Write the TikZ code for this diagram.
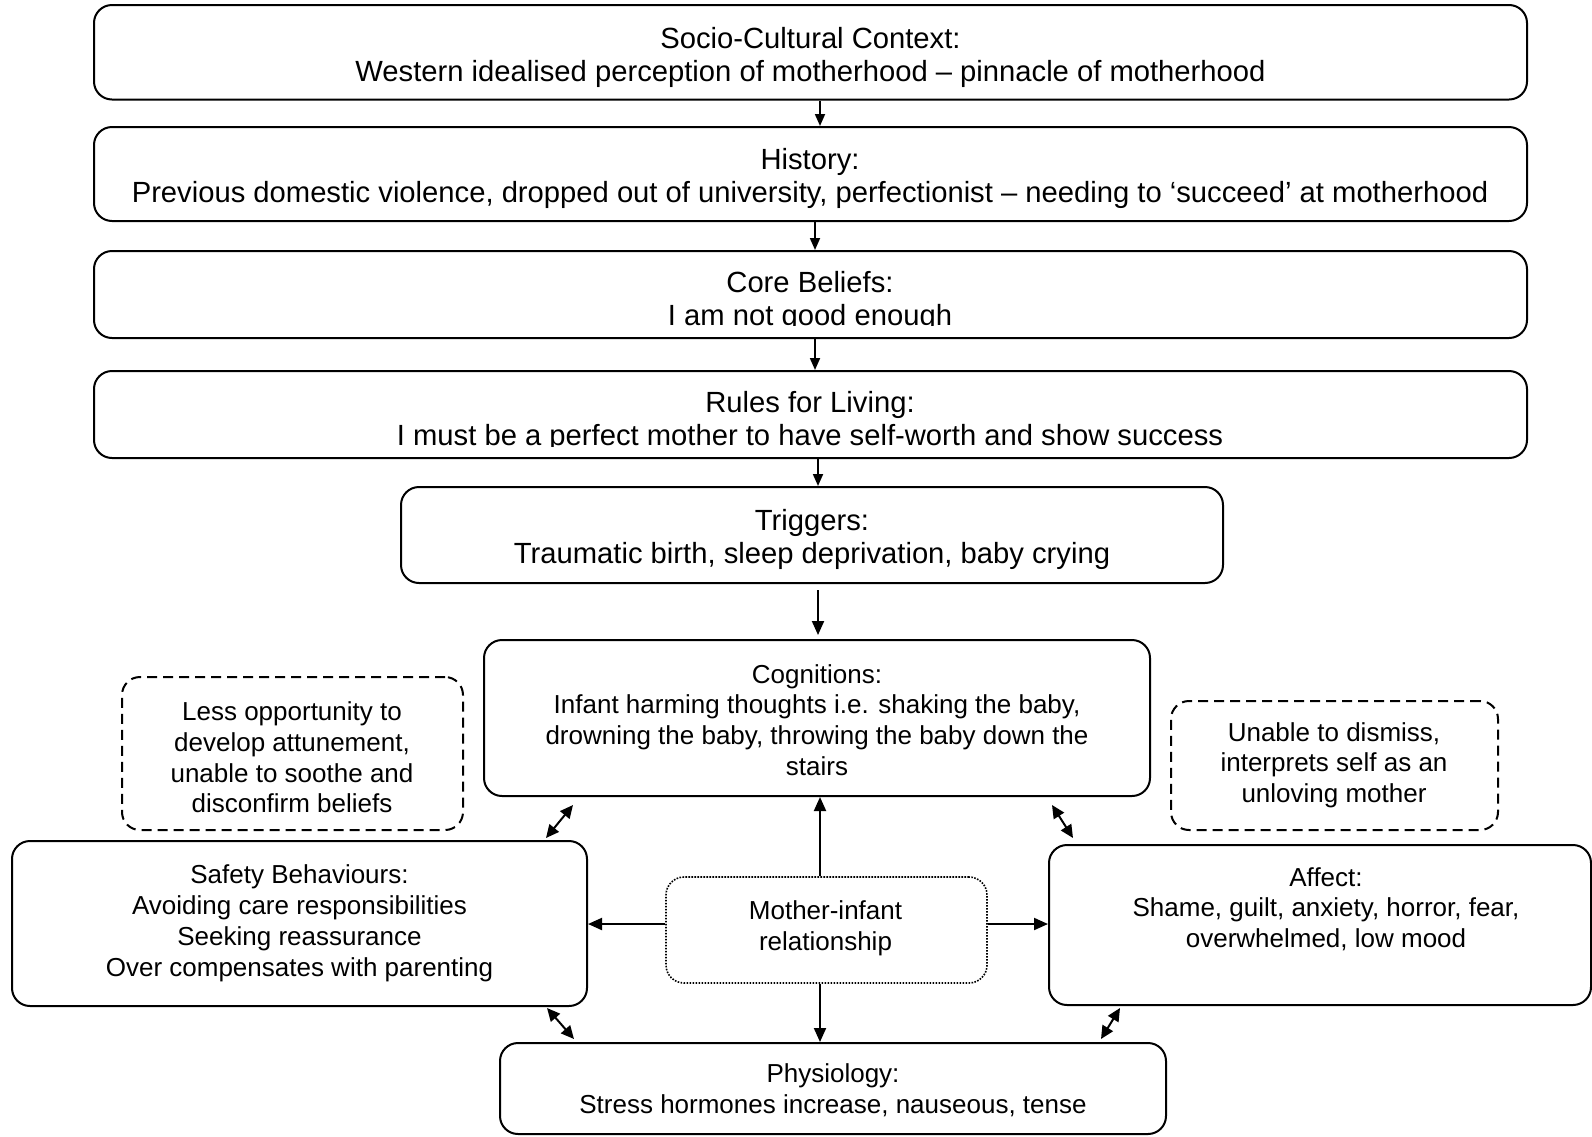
\documentclass[tikz,border=0pt]{standalone}
\usepackage{fontspec}
\setmainfont{Liberation Sans}
\usetikzlibrary{arrows.meta,calc}
\begin{document}
\begin{tikzpicture}[x=1pt,y=-1pt,
  box/.style={draw,line width=2pt,rounded corners=18pt,inner sep=0pt},
  dashbox/.style={box,dash pattern=on 10pt off 6pt},
  dotbox/.style={draw,line width=1.6pt,rounded corners=18pt,inner sep=0pt,dash pattern=on 1.6pt off 1.4pt},
  txtbig/.style={align=center,inner sep=0pt,font=\fontsize{29.2}{33}\selectfont},
  txt/.style={align=center,inner sep=0pt,font=\fontsize{26}{30.7}\selectfont},
  arr/.style={line width=2pt,-{Triangle[length=14pt,width=12pt]}},
  sarr/.style={line width=1.8pt,-{Triangle[length=12pt,width=10pt]}},
  dbl/.style={line width=2pt,{Triangle[length=13pt,width=12pt]}-{Triangle[length=13pt,width=12pt]}}]
\useasboundingbox (0,0) rectangle (1592,1136);

% boxes
\node[box,minimum width=1433pt,minimum height=94.5pt] (socbox) at (810.5,52.25) {};
\node[box,minimum width=1433pt,minimum height=94pt] (histbox) at (810.5,174) {};
\node[box,minimum width=1433pt,minimum height=87pt] (corebox) at (810.5,294.5) {};
\node[box,minimum width=1433pt,minimum height=87pt] (rulesbox) at (810.5,414.5) {};
\node[box,minimum width=822pt,minimum height=96pt] (trigbox) at (812,535) {};
\node[box,minimum width=666pt,minimum height=156pt] (cogbox) at (817,718) {};
\node[dashbox,minimum width=341pt,minimum height=153pt] (lessbox) at (292.5,753.5) {};
\node[dashbox,minimum width=327pt,minimum height=129pt] (unablebox) at (1334.5,765.5) {};
\node[box,minimum width=575pt,minimum height=165pt] (safetybox) at (299.5,923.5) {};
\node[dotbox,minimum width=321pt,minimum height=106pt] (motherbox) at (826.5,930) {};
\node[box,minimum width=542pt,minimum height=160pt] (affectbox) at (1320,925) {};
\node[box,minimum width=666pt,minimum height=91pt] (physbox) at (833,1088.5) {};

% texts
\node[txtbig] (socT) at (810.5,57.8) {Socio-Cultural Context:\\Western idealised perception of motherhood – pinnacle of motherhood};
\node[txtbig] (histT) at (810,178.5) {History:\\Previous domestic violence, dropped out of university, perfectionist – needing to ‘succeed’ at motherhood};
\begin{scope}
\clip (94,251) rectangle (1527,325);
\node[txtbig] (coreT) at (810,301.5) {Core Beliefs:\\I am not good enough};
\end{scope}
\begin{scope}
\clip (94,371) rectangle (1527,446);
\node[txtbig] (rulesT) at (810,421.7) {Rules for Living:\\I must be a perfect mother to have self-worth and show success};
\end{scope}
\node[txtbig] (trigT) at (812,539.5) {Triggers:\\Traumatic birth, sleep deprivation, baby crying};
\node[txt] (cogT) at (817,720) {Cognitions:\\Infant harming thoughts i.e. shaking the baby,\\drowning the baby, throwing the baby down the\\stairs};
\node[txt] (lessT) at (292,757.5) {Less opportunity to\\develop attunement,\\unable to soothe and\\disconfirm beliefs};
\node[txt] (unableT) at (1334,765) {Unable to dismiss,\\interprets self as an\\unloving mother};
\node[txt] (safetyT) at (299.5,923.3) {Safety Behaviours:\\Avoiding care responsibilities\\Seeking reassurance\\Over compensates with parenting};
\node[txt] (motherT) at (825.5,928.4) {Mother-infant\\relationship};
\node[txt] (affectT) at (1326,909) {Affect:\\Shame, guilt, anxiety, horror, fear,\\overwhelmed, low mood};
\node[txt] (physT) at (833,1090) {Physiology:\\Stress hormones increase, nauseous, tense};

% vertical arrows
\coordinate (xa) at (820,0);
\coordinate (xb) at (815,0);
\coordinate (xc) at (818,0);
\draw[sarr] (socbox.south -| xa) -- (histbox.north -| xa);
\draw[sarr] (histbox.south -| xb) -- (corebox.north -| xb);
\draw[sarr] (corebox.south -| xb) -- (rulesbox.north -| xb);
\draw[sarr] (rulesbox.south -| xc) -- (trigbox.north -| xc);
\draw[arr,shorten <=6pt,shorten >=4pt] (trigbox.south -| xc) -- (cogbox.north -| xc);
\draw[arr] (motherbox.north -| xa) -- (cogbox.south -| xa);
\draw[arr] (motherbox.south -| xa) -- (physbox.north -| xa);

% horizontal arrows
\coordinate (ym) at (0,924);
\draw[arr] (motherbox.west |- ym) -- (safetybox.east |- ym);
\draw[arr] (motherbox.east |- ym) -- (affectbox.west |- ym);

% diagonal double arrows
\coordinate (d1a) at ($(cogbox.south west)+(90,8)$);
\coordinate (d1b) at ($(safetybox.north east)+(-42,-2)$);
\coordinate (d2a) at ($(cogbox.south east)+(-99,8)$);
\coordinate (d2b) at ($(affectbox.north west)+(25,-6)$);
\coordinate (d3a) at ($(safetybox.south east)+(-41,1)$);
\coordinate (d3b) at ($(physbox.north west)+(75,-3)$);
\coordinate (d4a) at ($(affectbox.south west)+(72,2)$);
\coordinate (d4b) at ($(physbox.north east)+(-66,-3)$);
\draw[dbl] (d1a) -- (d1b);
\draw[dbl] (d2a) -- (d2b);
\draw[dbl] (d3a) -- (d3b);
\draw[dbl] (d4a) -- (d4b);
\end{tikzpicture}
\end{document}
